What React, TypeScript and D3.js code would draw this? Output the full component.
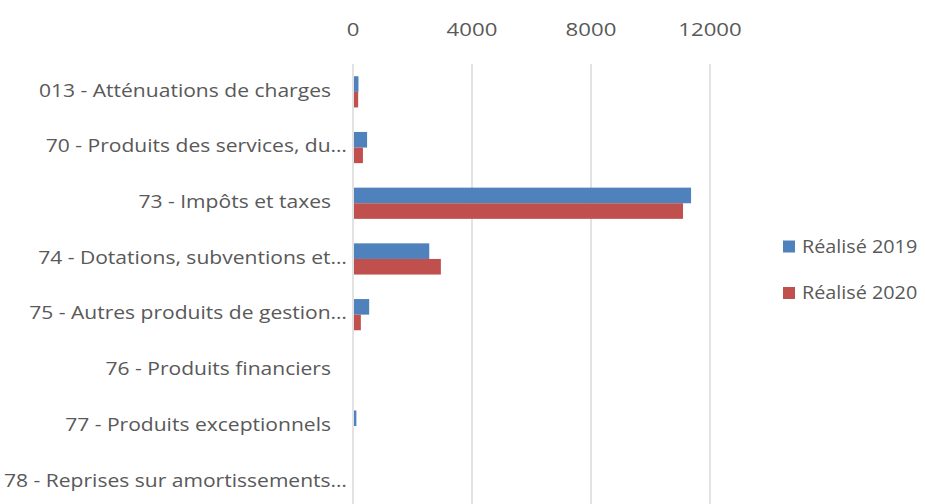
import React from "react";
import * as d3 from "d3";

const categories = [
  "013 - Atténuations de charges",
  "70 - Produits des services, du…",
  "73 - Impôts et taxes",
  "74 - Dotations, subventions et…",
  "75 - Autres produits de gestion…",
  "76 - Produits financiers",
  "77 - Produits exceptionnels",
  "78 - Reprises sur amortissements…",
];
const series2019 = [150, 440, 11330, 2530, 510, 0, 80, 0];
const series2020 = [140, 300, 11060, 2920, 230, 0, 0, 0];
const seriesNames = ["Réalisé 2019", "Réalisé 2020"];
const xTicks = [0, 4000, 8000, 12000];

const W = 925;
const H = 504;
const FONT = "'Open Sans', sans-serif";
const TEXT = "#595959";
const COLORS = ["#4f81bd", "#c0504d"];

export default function App() {
  const x = d3.scaleLinear().domain([0, 12000]).range([353, 710]);
  const y = d3.scaleBand().domain(categories).range([64, 509.6]).paddingInner(0).paddingOuter(0);
  const barH = 15.6;
  const all = [series2019, series2020];

  return (
    <svg width={W} height={H} style={{ position: "absolute", left: 0, top: 0, background: "#fff" }}>
      <rect width={W} height={H} fill="#fff" />
      {xTicks.map((t) => (
        <g key={t}>
          <line x1={x(t)} x2={x(t)} y1={64} y2={H} stroke="#d9d9d9" strokeWidth={1.5} />
          <g transform={`translate(${x(t)},30) scale(1.2,1)`}>
            <text dy="0.35em" textAnchor="middle" fontFamily={FONT} fontSize={18.5} fill={TEXT}>
              {t}
            </text>
          </g>
        </g>
      ))}
      {categories.map((c, i) => {
        const cy = (y(c) as number) + y.bandwidth() / 2;
        const trunc = c.endsWith("…");
        return (
          <g key={c}>
            {all.map((s, k) =>
              s[i] > 0 ? (
                <rect
                  key={k}
                  x={x(0) + 1}
                  y={cy - barH + k * barH}
                  width={Math.max(0, x(s[i]) - x(0))}
                  height={barH}
                  fill={COLORS[k]}
                />
              ) : null
            )}
            <g transform={`translate(${trunc ? 347 : 331},${cy - 1.5}) scale(1.17,1)`}>
              <text dy="0.35em" textAnchor="end" fontFamily={FONT} fontSize={18} fill={TEXT}>
                {c}
              </text>
            </g>
          </g>
        );
      })}
      {seriesNames.map((n, k) => (
        <g key={n}>
          <rect x={783} y={240.5 + k * 46.5} width={12} height={12} fill={COLORS[k]} />
          <g transform={`translate(802,${246.5 + k * 46.5}) scale(1.1,1)`}>
            <text dy="0.35em" fontFamily={FONT} fontSize={18} fill={TEXT}>
              {n}
            </text>
          </g>
        </g>
      ))}
    </svg>
  );
}
